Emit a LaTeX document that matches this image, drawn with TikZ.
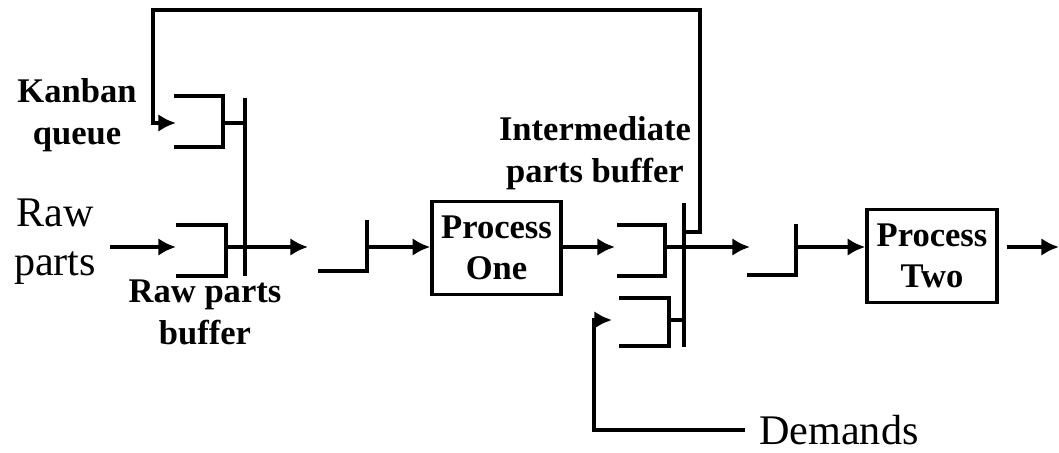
\documentclass[tikz,border=0pt]{standalone}
\usepackage{fontspec}
\setmainfont{Liberation Serif}
\usetikzlibrary{arrows.meta, positioning}

\begin{document}
\begin{tikzpicture}[x=0.03cm, y=-0.03cm, line join=miter,
    flow/.style={line width=3.2pt, -{Latex[length=15pt,width=15pt]}},
    wire/.style={line width=3.2pt},
    wall/.style={line width=4.2pt},
    bar/.style={line width=3pt},
    procbox/.style={draw, line width=3pt, minimum width=3.87cm, minimum height=2.8cm,
      align=center, inner sep=0pt, font=\fontsize{29.5}{35}\selectfont\bfseries},
    lbl/.style={align=center, inner sep=0pt, font=\fontsize{29.5}{36}\selectfont\bfseries},
    big/.style={align=center, inner sep=0pt, font=\fontsize{36}{42}\selectfont}]
    \useasboundingbox (0,0) rectangle (1059,453);

    % Labels
    \node[lbl] (kq) at (77,115) {Kanban\\queue};
    \node[big] (raw) at (55,242) {Raw\\parts};
    \node[lbl] (rpb) at (205,312) {Raw parts\\buffer};
    \node[lbl] (ipb) at (595,153) {Intermediate\\parts buffer};
    \node[big, anchor=west, inner xsep=0.42cm] (dem) at (745,430) {Demands};

    % Processes
    \node[procbox] (p1) at (496.5,248) {Process\\One};
    \node[procbox, minimum width=3.9cm] (p2) at (932,256) {Process\\Two};

    % Connection points
    \coordinate (src) at (110,247);
    \coordinate (kin) at (176,123);
    \coordinate (rin) at (176,247);
    \coordinate (jout) at (226,247);
    \coordinate (q1in) at (308,247);
    \coordinate (q1out) at (367,247);
    \coordinate (iin) at (615,247);
    \coordinate (iout) at (665,247);
    \coordinate (q2in) at (750,247);
    \coordinate (q2out) at (796,247);
    \coordinate (din) at (612,320);
    \coordinate (fb) at (684,232);
    \coordinate (snk) at (1059,247);

    % Kanban queue and raw parts buffer
    \draw[wall] (174,96) -| (223,147) -- (174,147);
    \draw[wire] (223,123) -- (245,123);
    \draw[wall] (176,225) -| (226,276) -- (176,276);
    \draw[bar] (245,98) -- (245,276);

    % Queues in front of the processes
    \draw[wall] (318,271) -| (367,220);
    \draw[wall] (747,275) -| (796,224);

    % Intermediate parts buffer and demand queue
    \draw[wall] (617,225) -| (665,276) -- (617,276);
    \draw[wall] (619,298) -| (669,346) -- (619,346);
    \draw[wire] (669,320) -- (684,320);
    \draw[bar] (684,203) -- (684,347);

    % Flow
    \draw[flow] (src) -- (rin);
    \draw[flow] (jout) -- (q1in);
    \draw[flow] (q1out) -- (q1out -| p1.west);
    \draw[flow] (p1.east |- iin) -- (iin);
    \draw[flow] (iout) -- (q2in);
    \draw[flow] (q2out) -- (q2out -| p2.west);
    \draw[flow] (p2.east |- snk) ++(8,0) -- (snk);

    % Kanban feedback and demands
    \draw[flow] (fb) -| (700,10) -| (153,123) -- (kin);
    \draw[flow] (dem.west) -| (594,320) -- (din);
\end{tikzpicture}
\end{document}
